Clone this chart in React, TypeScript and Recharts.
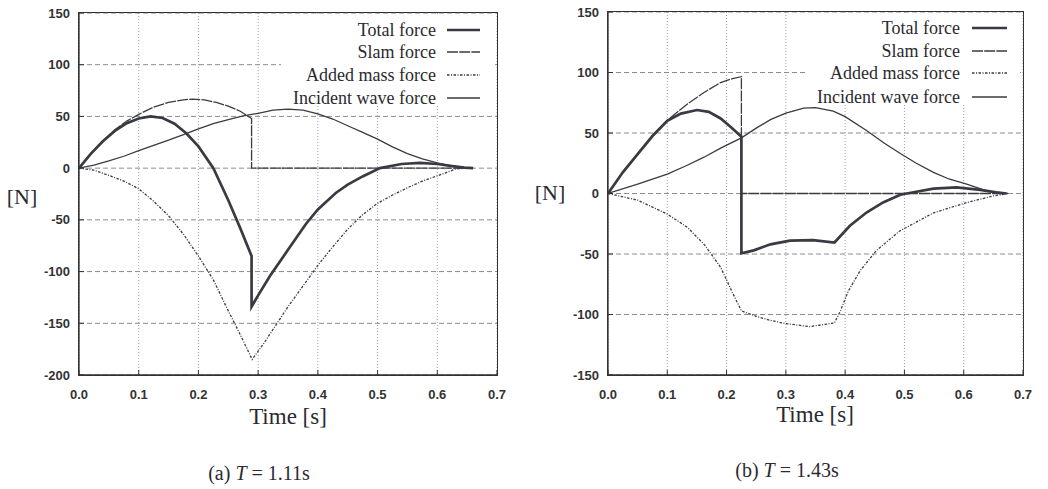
import React from 'react';
import { LineChart, Line, XAxis, YAxis, CartesianGrid } from 'recharts';

// ---- (a) T = 1.11s ----
const totalA_t = [0, 0.02, 0.04, 0.06, 0.08, 0.1, 0.12, 0.14, 0.16, 0.18, 0.2, 0.225, 0.25, 0.27, 0.289, 0.289, 0.3, 0.32, 0.35, 0.38, 0.4, 0.43, 0.45, 0.475, 0.504, 0.54, 0.571, 0.6, 0.625, 0.645, 0.66];
const totalA_v = [0, 14, 26, 36, 43.5, 48, 50, 48.5, 43, 33.5, 21, 0, -31, -58, -85, -134, -123, -104, -79, -54, -40, -24, -16, -8, 0, 4, 5, 4, 2, 0.5, 0];

const slamA_t = [0, 0.02, 0.04, 0.06, 0.08, 0.1, 0.125, 0.15, 0.175, 0.19, 0.21, 0.23, 0.25, 0.27, 0.289, 0.289, 0.66];
const slamA_v = [0, 14, 26, 37, 45.5, 52, 59, 63.5, 66, 66.8, 66, 63.5, 60, 55, 48, 0, 0];

const addedA_t = [0, 0.025, 0.05, 0.075, 0.1, 0.125, 0.15, 0.175, 0.2, 0.225, 0.25, 0.27, 0.29, 0.31, 0.334, 0.35, 0.37, 0.4, 0.425, 0.45, 0.475, 0.5, 0.525, 0.55, 0.575, 0.6, 0.63, 0.645];
const addedA_v = [0, -2, -7, -12.5, -20, -32, -46, -64, -85, -108, -138, -161, -185, -169, -148, -134, -118, -94, -76, -59, -45, -34, -26, -19, -12.5, -7.5, -1, 0];

const incidentA_t = [0, 0.025, 0.05, 0.075, 0.1, 0.125, 0.15, 0.175, 0.2, 0.225, 0.25, 0.275, 0.3, 0.325, 0.35, 0.375, 0.4, 0.425, 0.45, 0.475, 0.5, 0.525, 0.55, 0.575, 0.6, 0.625, 0.645, 0.66];
const incidentA_v = [0, 3, 7, 11.5, 17, 22, 27, 32.5, 38, 43, 47, 50.5, 53, 56, 57, 56, 52.5, 47.5, 41, 34.5, 28, 20.5, 14, 9, 5, 2, 0.7, 0];

// ---- (b) T = 1.43s ----
const totalB_t = [0, 0.025, 0.05, 0.075, 0.1, 0.123, 0.15, 0.17, 0.19, 0.207, 0.225, 0.225, 0.246, 0.274, 0.307, 0.346, 0.382, 0.408, 0.436, 0.464, 0.493, 0.504, 0.549, 0.588, 0.628, 0.655, 0.672];
const totalB_v = [0, 17.5, 32.5, 47.5, 60, 66, 69, 67.5, 62, 55, 47, -49.5, -47, -42, -39, -38.5, -40.5, -26.7, -15.7, -7.4, -1, 0, 4, 5, 3, 1, 0];

const slamB_t = [0, 0.025, 0.05, 0.075, 0.1, 0.134, 0.162, 0.19, 0.21, 0.225, 0.225, 0.67];
const slamB_v = [0, 17.5, 32.5, 47.5, 60.5, 74, 83.5, 91.7, 95, 96.5, 0, 0];

const addedB_t = [0, 0.05, 0.1, 0.134, 0.162, 0.19, 0.21, 0.225, 0.25, 0.275, 0.3, 0.34, 0.382, 0.392, 0.405, 0.425, 0.453, 0.492, 0.549, 0.605, 0.65, 0.675];
const addedB_v = [0, -5.5, -17, -28, -42, -61, -82, -97, -101.5, -105, -107.5, -110, -107, -97, -81, -64, -47, -31, -16, -7.5, -2, 0];

const incidentB_t = [0, 0.05, 0.1, 0.13, 0.162, 0.19, 0.225, 0.25, 0.274, 0.3, 0.33, 0.35, 0.38, 0.4, 0.436, 0.465, 0.493, 0.52, 0.549, 0.575, 0.605, 0.64, 0.675];
const incidentB_v = [0, 7.7, 16, 22.5, 30, 37.5, 46, 54, 61, 66.5, 70.5, 71, 68, 63.5, 52, 42, 33, 25, 17.4, 12, 7.8, 2, 0];

const xTicks = [0, 0.1, 0.2, 0.3, 0.4, 0.5, 0.6, 0.7];
const yTicksA = [-200, -150, -100, -50, 0, 50, 100, 150];
const yTicksB = [-150, -100, -50, 0, 50, 100, 150];

const seriesNames = ['Total force', 'Slam force', 'Added mass force', 'Incident wave force'];

const INK = '#3a3a42';
const styles = [
  { strokeWidth: 2.7, dash: undefined },
  { strokeWidth: 1.3, dash: '11 1.2' },
  { strokeWidth: 1.3, dash: '2.5 1.5 1 1.5' },
  { strokeWidth: 1.3, dash: undefined },
];

const zip = (t: number[], v: number[]) => t.map((x, i) => ({ t: x, v: v[i] }));

const tickStyle = { fontFamily: 'Liberation Sans, Arial, sans-serif', fontWeight: 700, fontSize: 13, fill: '#333' };
const serif = 'Liberation Serif, Times New Roman, serif';

function Panel({ left, width, margin, yWidth, yDomain, yTicks, series }: any) {
  const plotW = width - margin.right - yWidth;
  const plotH = 489 - margin.top - margin.bottom - 30;
  const x0 = yWidth + margin.left;
  const y0 = margin.top;
  return (
    <div style={{ position: 'absolute', left, top: 0, width, height: 489 }}>
      <LineChart width={width} height={489} margin={margin}>
        <CartesianGrid horizontal={false} stroke="#8fa2bd" strokeDasharray="1 2" />
        <CartesianGrid vertical={false} stroke="#8c8c8c" strokeDasharray="5 3" />
        <XAxis
          dataKey="t" type="number" domain={[0, 0.7]} ticks={xTicks}
          tickFormatter={(v: number) => v.toFixed(1)}
          tick={tickStyle} tickLine={{ stroke: '#333' }} tickSize={-5} tickMargin={20}
          axisLine={{ stroke: '#333', strokeWidth: 1.3 }} height={30}
          allowDataOverflow
        />
        <YAxis
          type="number" domain={yDomain} ticks={yTicks}
          tick={tickStyle} tickLine={{ stroke: '#333' }} tickSize={-5} tickMargin={14}
          axisLine={{ stroke: '#333', strokeWidth: 1.3 }} width={yWidth}
          allowDataOverflow
        />
        {series.map((s: any, i: number) => (
          <Line
            key={seriesNames[i]}
            data={s}
            dataKey="v"
            name={seriesNames[i]}
            type="linear"
            stroke={INK}
            strokeWidth={styles[i].strokeWidth}
            strokeDasharray={styles[i].dash}
            dot={false}
            activeDot={false}
            isAnimationActive={false}
          />
        ))}
      </LineChart>
      {/* plot frame (gnuplot style box) */}
      <div style={{
        position: 'absolute', left: x0 - 1, top: y0 - 1, width: plotW + 2, height: plotH + 2,
        boxSizing: 'border-box', border: '1.5px solid #333', pointerEvents: 'none',
      }} />
    </div>
  );
}

function LegendBox({ left, top, width, textRight, lineFrom, lineTo, rows }: any) {
  return (
    <svg style={{ position: 'absolute', left, top, overflow: 'visible' }} width={width} height={96}>
      <rect x={0} y={0} width={width} height={89} fill="#fff" />
      {seriesNames.map((n, i) => (
        <g key={n}>
          <text x={textRight} y={rows[i] + 6} textAnchor="end" fontFamily={serif} fontSize={18} fill="#2a2a30">{n}</text>
          <line x1={lineFrom} x2={lineTo} y1={rows[i]} y2={rows[i]} stroke={INK}
            strokeWidth={styles[i].strokeWidth} strokeDasharray={styles[i].dash} />
        </g>
      ))}
    </svg>
  );
}

const txt = (x: number, y: number, size: number, children: any) => (
  <div style={{
    position: 'absolute', left: x - 100, top: y - size * 0.6, width: 200, textAlign: 'center',
    fontFamily: serif, fontSize: size, lineHeight: `${size * 1.2}px`, color: '#2a2a30', whiteSpace: 'nowrap',
  }}>{children}</div>
);

export default function App() {
  const seriesA = [zip(totalA_t, totalA_v), zip(slamA_t, slamA_v), zip(addedA_t, addedA_v), zip(incidentA_t, incidentA_v)];
  const seriesB = [zip(totalB_t, totalB_v), zip(slamB_t, slamB_v), zip(addedB_t, addedB_v), zip(incidentB_t, incidentB_v)];
  return (
    <div style={{ position: 'absolute', left: 0, top: 0, width: 1048, height: 489, background: '#fff', overflow: 'hidden' }}>
      <Panel left={0} width={520} margin={{ top: 13, right: 23, bottom: 84, left: 0 }} yWidth={79}
        yDomain={[-200, 150]} yTicks={yTicksA} series={seriesA} />
      <Panel left={520} width={528} margin={{ top: 12, right: 25, bottom: 84, left: 0 }} yWidth={88}
        yDomain={[-150, 150]} yTicks={yTicksB} series={seriesB} />

      <LegendBox left={281} top={15} width={213} textRight={155} lineFrom={166} lineTo={199} rows={[15, 37, 60, 83]} />
      <LegendBox left={808} top={14} width={212} textRight={152} lineFrom={164} lineTo={199} rows={[14, 37, 59, 83]} />

      {txt(22, 197, 22, '[N]')}
      {txt(550, 193, 22, '[N]')}
      {txt(288, 417, 23, 'Time [s]')}
      {txt(815, 415, 23, 'Time [s]')}
      {txt(259, 473, 20, <span>(a) <i>T</i> = 1.11s</span>)}
      {txt(787, 470, 20, <span>(b) <i>T</i> = 1.43s</span>)}
    </div>
  );
}
